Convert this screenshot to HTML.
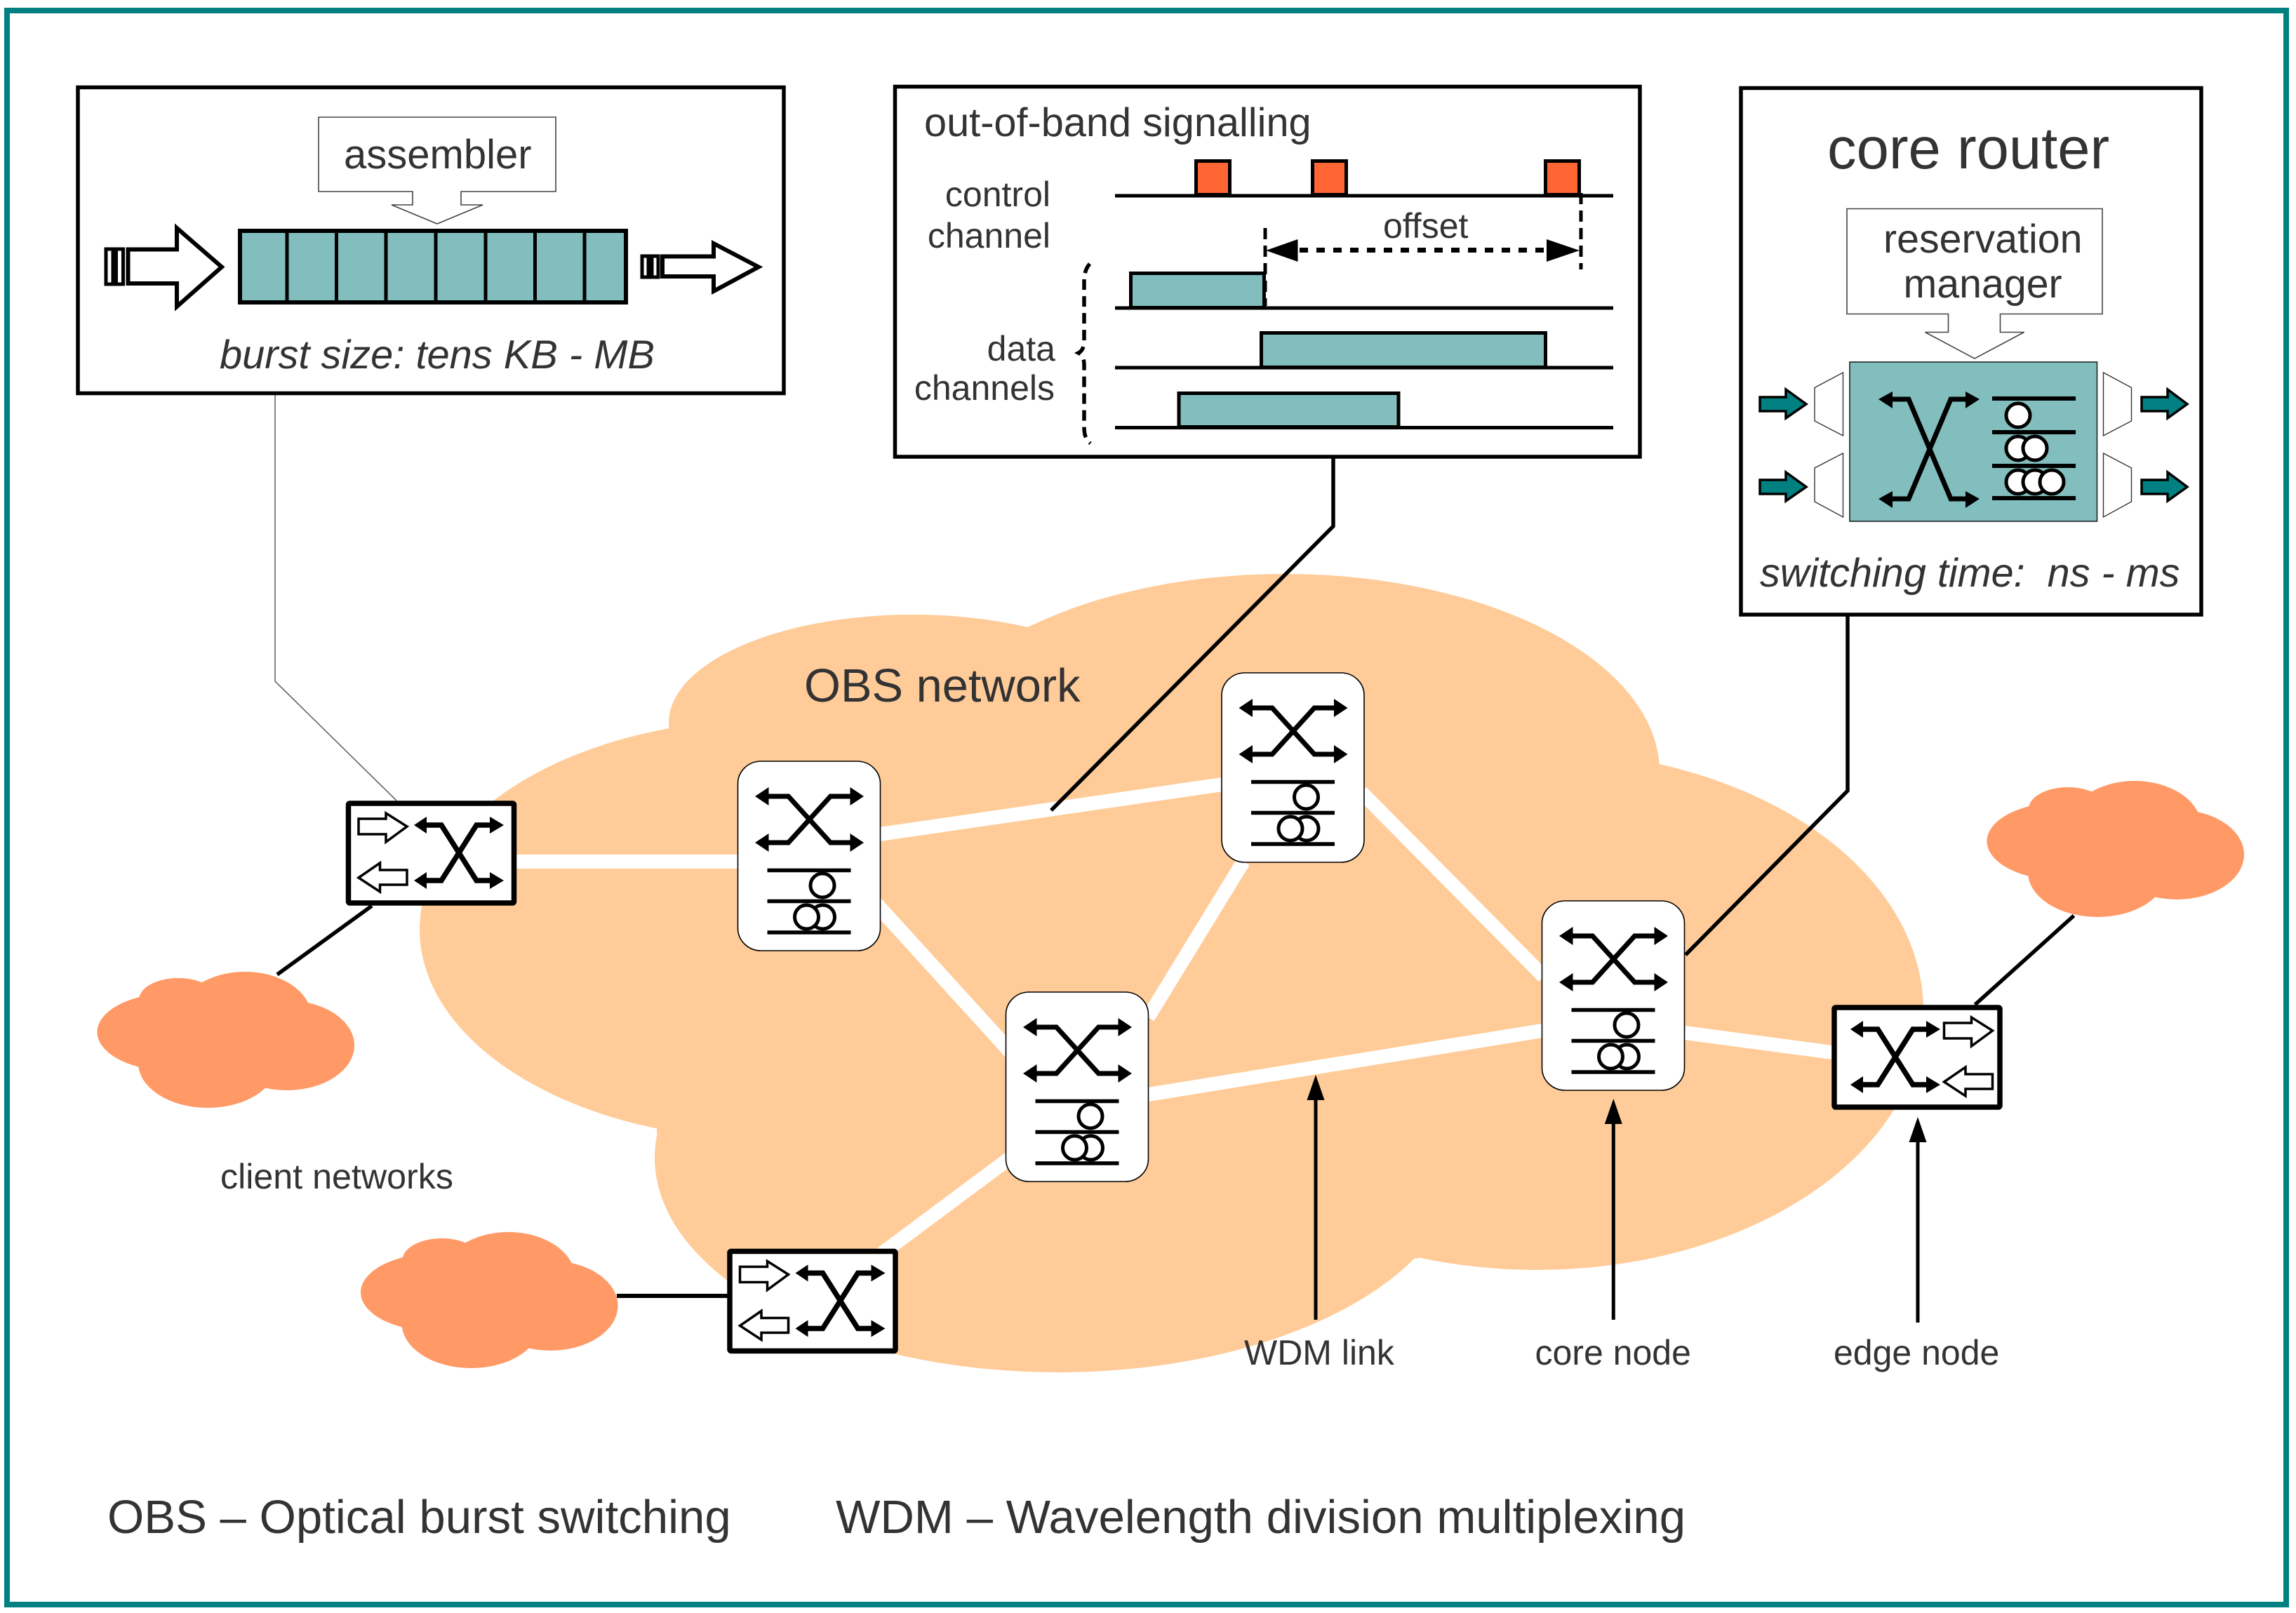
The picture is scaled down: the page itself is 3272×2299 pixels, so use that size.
<!DOCTYPE html>
<html>
<head>
<meta charset="utf-8">
<style>
html,body{margin:0;padding:0;background:#fff;}
svg{display:block;}
text{font-family:"Liberation Sans",sans-serif;fill:#333;}
.it{font-style:italic;}
.thin{fill:#fff;stroke:#444;stroke-width:1.6;}
.teal{fill:#82bebe;stroke:#000;stroke-width:6;}
.lnk{stroke:#fff;stroke-width:20;fill:none;}
.blk{stroke:#000;fill:none;}
</style>
</head>
<body>
<svg xmlns="http://www.w3.org/2000/svg" width="3272" height="2299" viewBox="0 0 3272 2299">
<defs>
<g id="core">
  <rect x="0" y="0" width="203" height="270" rx="33" ry="32" fill="#fff" stroke="#000" stroke-width="1.6"/>
  <path d="M42 50H72L132 116H162M162 50H132L72 116H42" fill="none" stroke="#000" stroke-width="7"/>
  <path d="M24.5 50L44 37V63ZM24.5 116L44 103V129ZM179.5 50L160 37V63ZM179.5 116L160 103V129Z" fill="#000"/>
  <path d="M42 155.500H161M42 199.500H161M42 244H161" stroke="#000" stroke-width="5.500" fill="none"/>
  <ellipse cx="120.500" cy="177" rx="17" ry="17" fill="#fff" stroke="#000" stroke-width="5"/>
  <ellipse cx="121" cy="222" rx="17" ry="17" fill="#fff" stroke="#000" stroke-width="5"/>
  <ellipse cx="98" cy="222" rx="17" ry="17" fill="#fff" stroke="#000" stroke-width="5"/>
</g>
<g id="sw">
  <path d="M113 35H136L186 114H208M208 35H186L136 114H113" fill="none" stroke="#000" stroke-width="7.500"/>
  <path d="M97 35L115 23V47ZM97 114L115 102V126ZM225 35L205 23V47ZM225 114L205 102V126Z" fill="#000"/>
</g>
<g id="hollow">
  <path d="M18 26H57V18L87 37L57 59V48H18Z" fill="#fff" stroke="#000" stroke-width="3.500"/>
  <path d="M18 110L48.500 89V99H87V120H48.500V130Z" fill="#fff" stroke="#000" stroke-width="3.500"/>
</g>
<g id="cloud" fill="#ff9966">
  <ellipse cx="248" cy="1471" rx="109.500" ry="56"/>
  <ellipse cx="254" cy="1425" rx="56" ry="31"/>
  <ellipse cx="349" cy="1450" rx="95" ry="65"/>
  <ellipse cx="409" cy="1490" rx="96" ry="64"/>
  <ellipse cx="296" cy="1515" rx="99" ry="64"/>
  <ellipse cx="320" cy="1480" rx="110" ry="65"/>
</g>
</defs>

<rect x="10" y="15" width="3248" height="2272" fill="#fff" stroke="#008080" stroke-width="8"/>

<!-- main cloud -->
<g fill="#ffcc99">
  <ellipse cx="1301" cy="1030" rx="348" ry="154"/>
  <ellipse cx="1830" cy="1100" rx="535" ry="282"/>
  <ellipse cx="1100" cy="1325" rx="502" ry="300"/>
  <ellipse cx="1508" cy="1650" rx="575" ry="306"/>
  <ellipse cx="2190" cy="1440" rx="551" ry="370"/>
  <polygon points="953,1034 1468,893 2365,1090 2020,1794 936,1615"/>
</g>

<!-- links -->
<path class="lnk" d="M736 1228H1052"/>
<path class="lnk" d="M1254 1189L1742 1118"/>
<path class="lnk" d="M1240 1279L1450 1510" style="stroke-width:21"/>
<path class="lnk" d="M1636 1450L1772 1228"/>
<path class="lnk" d="M1940 1129L2200 1392"/>
<path class="lnk" d="M1636 1560L2198 1469"/>
<path class="lnk" d="M2401 1472L2611 1500"/>
<path class="lnk" d="M1252 1790L1440 1650"/>

<!-- client clouds -->
<use href="#cloud"/>
<use href="#cloud" transform="translate(375.500,371)"/>
<use href="#cloud" transform="translate(2693,-272)"/>

<!-- connectors -->
<path d="M392 563V971L565 1141" fill="none" stroke="#666" stroke-width="1.600"/>
<path class="blk" stroke-width="5.500" d="M1900 651V750L1498 1155"/>
<path class="blk" stroke-width="5.500" d="M2633 876V1127L2402 1361"/>
<path class="blk" stroke-width="5.500" d="M530 1291L395 1389"/>
<path class="blk" stroke-width="6" d="M879 1847H1037"/>
<path class="blk" stroke-width="5.500" d="M2955.500 1305L2814.500 1432"/>

<!-- nodes -->
<use href="#core" transform="translate(1051.500,1085)"/>
<use href="#core" transform="translate(1741,959)"/>
<use href="#core" transform="translate(1433.500,1414)"/>
<use href="#core" transform="translate(2197.500,1284)"/>

<g transform="translate(493,1141)">
  <rect x="3.500" y="4" width="236" height="142" rx="2" fill="#fff" stroke="#000" stroke-width="7.500"/>
  <use href="#sw"/><use href="#hollow"/>
</g>
<g transform="translate(1036.500,1779.500)">
  <rect x="3.500" y="4" width="236" height="142" rx="2" fill="#fff" stroke="#000" stroke-width="7.500"/>
  <use href="#sw"/><use href="#hollow"/>
</g>
<g transform="translate(2610.500,1432)">
  <rect x="3.500" y="4" width="236" height="142" rx="2" fill="#fff" stroke="#000" stroke-width="7.500"/>
  <use href="#sw" transform="translate(-70.500,0)"/><use href="#hollow" transform="translate(142,0)"/>
</g>

<!-- up arrows -->
<path class="blk" stroke-width="5" d="M1875 1560V1881M2299.300 1595V1881M2733 1620V1885"/>
<path d="M1875 1532L1862.500 1568H1887.500ZM2299.300 1566L2286.800 1602H2311.800ZM2733 1592L2720.500 1628H2745.500Z" fill="#000"/>

<!-- panel 1 -->
<rect x="111" y="124.500" width="1006" height="436" fill="#fff" stroke="#000" stroke-width="5.500"/>
<path class="thin" d="M454 167H792V273H657V292H688L623 319L558 292H588V273H454Z"/>
<text x="490" y="240" font-size="58">assembler</text>
<rect class="teal" x="342" y="329" width="550" height="102"/>
<path class="blk" stroke-width="5" d="M409 329V431M479.500 329V431M550 329V431M621 329V431M692 329V431M762.500 329V431M833 329V431"/>
<rect x="151" y="355" width="10" height="50" fill="#fff" stroke="#000" stroke-width="5"/>
<rect x="165.500" y="355" width="10" height="50" fill="#fff" stroke="#000" stroke-width="5"/>
<path d="M182.500 355.500H252V325L316 380.500L252 437V404H182.500Z" fill="#fff" stroke="#000" stroke-width="6"/>
<rect x="915" y="365" width="9" height="30" fill="#fff" stroke="#000" stroke-width="5"/>
<rect x="929" y="365" width="9" height="30" fill="#fff" stroke="#000" stroke-width="5"/>
<path d="M944 365.500H1017V347L1081 380.500L1017 415V394H944Z" fill="#fff" stroke="#000" stroke-width="6"/>
<text class="it" x="313" y="525" font-size="57.800">burst size: tens KB - MB</text>

<!-- panel 2 -->
<rect x="1275.500" y="123.500" width="1061.500" height="527.500" fill="#fff" stroke="#000" stroke-width="5.500"/>
<text x="1317" y="194" font-size="57.700">out-of-band signalling</text>
<text x="1497" y="294" font-size="50" text-anchor="end">control</text>
<text x="1497" y="353" font-size="50" text-anchor="end">channel</text>
<text x="1504" y="514" font-size="50" text-anchor="end">data</text>
<text x="1503" y="570" font-size="50" text-anchor="end">channels</text>
<text x="1971" y="339" font-size="50">offset</text>
<path class="blk" stroke-width="5" d="M1589 279H2299M1589 439H2299M1589 524H2299M1589 609.500H2299"/>
<g fill="#ff6633" stroke="#000" stroke-width="5">
  <rect x="1704.500" y="229.500" width="48" height="48"/>
  <rect x="1870.500" y="229.500" width="48" height="48"/>
  <rect x="2202.500" y="229.500" width="48" height="48"/>
</g>
<g fill="#82bebe" stroke="#000" stroke-width="5">
  <rect x="1611.500" y="389.500" width="190" height="49"/>
  <rect x="1797.500" y="474.500" width="405" height="49"/>
  <rect x="1680" y="560.500" width="313" height="48"/>
</g>
<path class="blk" stroke-width="5" stroke-dasharray="16 9" d="M1803 325V436"/>
<path class="blk" stroke-width="5" stroke-dasharray="16 9" d="M2253 275V384"/>
<path class="blk" stroke-width="7" stroke-dasharray="12 12" d="M1852 356.500H2204"/>
<path d="M1804 357L1849.500 341V373ZM2251 357L2204 341V373Z" fill="#000"/>
<path class="blk" stroke-width="5.500" stroke-dasharray="15 9" d="M1553 376Q1545 385 1545 400V485Q1545 499 1537 503Q1545 507 1545 520V610Q1545 625 1554 632"/>

<!-- panel 3 -->
<rect x="2481" y="125.500" width="656" height="750.500" fill="#fff" stroke="#000" stroke-width="5.500"/>
<text x="2604" y="240" font-size="83.200">core router</text>
<path class="thin" d="M2632 297.500H2996V447.500H2850.500V473.500H2884.500L2814 511L2743.500 473.500H2776.500V447.500H2632Z"/>
<text x="2684" y="360" font-size="57.300">reservation</text>
<text x="2712.500" y="424" font-size="57.300">manager</text>
<rect x="2636" y="516" width="352.500" height="227" fill="#82bebe" stroke="#222" stroke-width="1.600"/>
<path d="M2693 569H2720L2780 711H2805M2805 569H2780L2720 711H2693" fill="none" stroke="#000" stroke-width="7"/>
<path d="M2677 569L2697 558V582ZM2677 711L2697 700V724ZM2821 569L2801 558V582ZM2821 711L2801 700V724Z" fill="#000"/>
<path class="blk" stroke-width="6" d="M2839 568H2958M2839 616H2958M2839 664H2958M2839 710H2958"/>
<g fill="#fff" stroke="#000" stroke-width="5">
  <circle cx="2876" cy="592" r="17"/>
  <circle cx="2876" cy="639" r="17"/>
  <circle cx="2900" cy="639" r="17"/>
  <circle cx="2876" cy="687" r="17"/>
  <circle cx="2900" cy="687" r="17"/>
  <circle cx="2924" cy="687" r="17"/>
</g>
<g fill="#fff" stroke="#333" stroke-width="1.400">
  <path d="M2586 552.500L2626.500 531V621L2586 600Z"/>
  <path d="M2586 667L2626.500 646V737L2586 715Z"/>
  <path d="M2997.500 531L3037.500 552.500V600L2997.500 621Z"/>
  <path d="M2997.500 646L3037.500 667V715L2997.500 737Z"/>
</g>
<g fill="#008080" stroke="#000" stroke-width="3.500">
  <path d="M2508 566H2545V555L2574 576L2545 596V586H2508Z"/>
  <path d="M2508 684H2545V673L2574 694L2545 714V704H2508Z"/>
  <path d="M3052 566H3089V555L3117 576L3089 596V586H3052Z"/>
  <path d="M3052 684H3089V673L3117 694L3089 714V704H3052Z"/>
</g>
<text class="it" x="2508" y="836" font-size="57.600" xml:space="preserve">switching time:  ns - ms</text>

<!-- labels -->
<text x="1146" y="1000" font-size="66.800">OBS network</text>
<text x="314" y="1694" font-size="50.200">client networks</text>
<text x="1773" y="1945" font-size="50">WDM link</text>
<text x="2187.500" y="1945" font-size="50">core node</text>
<text x="2613" y="1945" font-size="50">edge node</text>
<text x="153" y="2185" font-size="67.200">OBS – Optical burst switching</text>
<text x="1191" y="2185" font-size="67.200">WDM – Wavelength division multiplexing</text>
</svg>
</body>
</html>
